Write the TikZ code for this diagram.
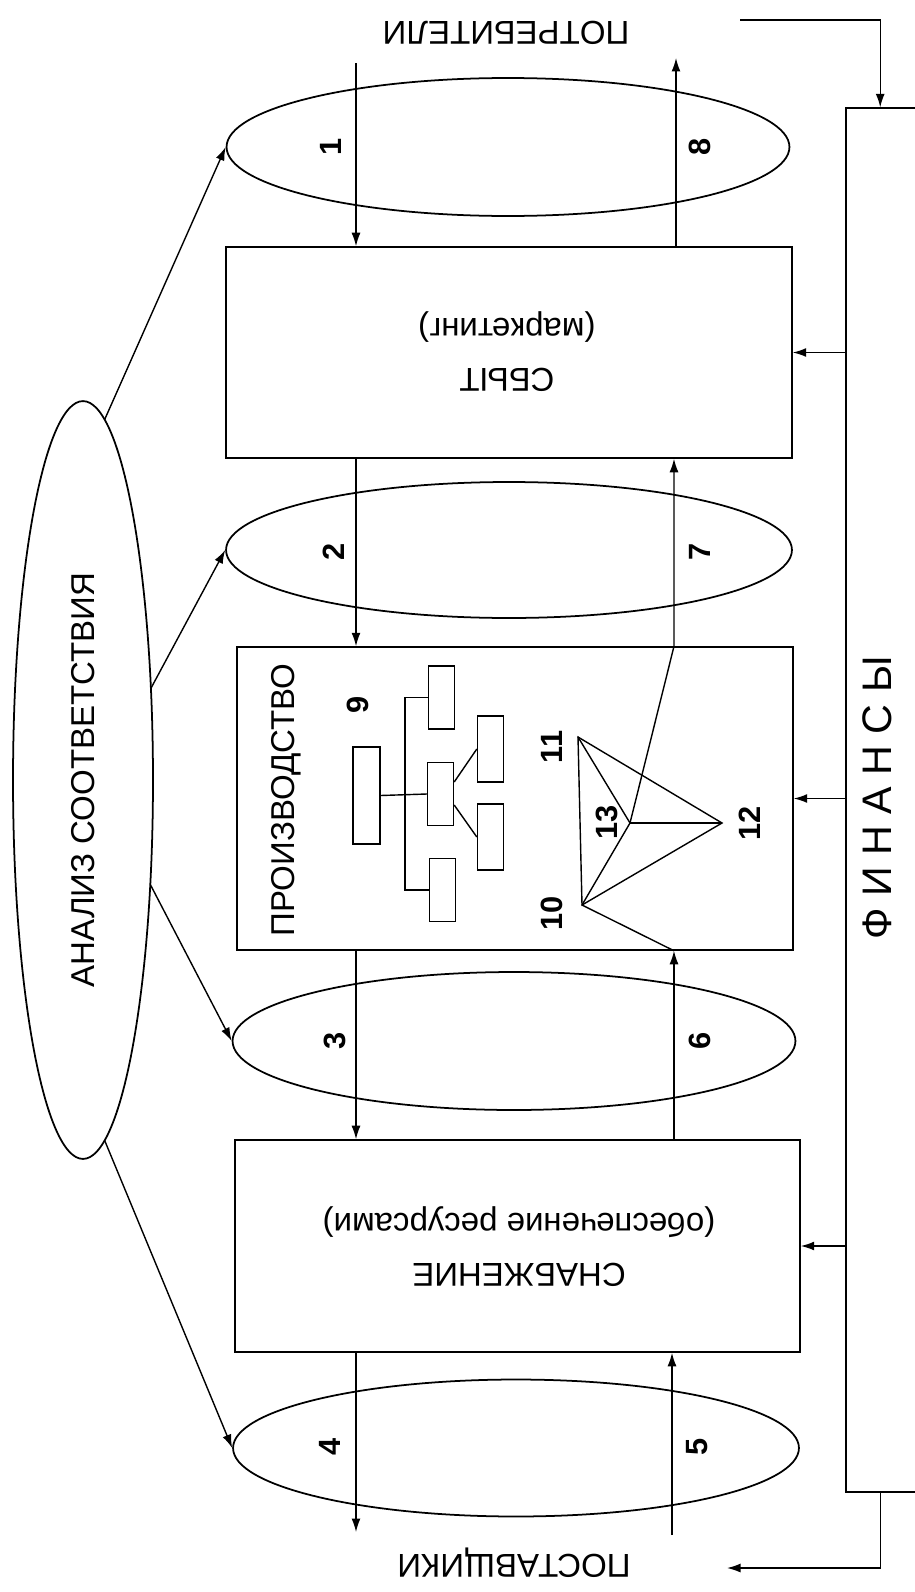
\documentclass[tikz,border=0pt]{standalone}
\usepackage{fontspec}
\setmainfont{Liberation Sans}
\usepackage{tikz}
\usetikzlibrary{arrows.meta, shapes.geometric, calc, positioning}

\begin{document}
\begin{tikzpicture}[x=0.02cm, y=-0.02cm,
        flow/.style={-{Latex[length=0.27cm,width=0.18cm]}, line width=0.8pt},
        block/.style={draw, line width=0.9pt, inner sep=0pt},
        oval/.style={draw, ellipse, line width=1pt, inner sep=0pt, minimum width=11.26cm, minimum height=2.76cm},
        leaf/.style={draw, line width=0.8pt, inner sep=0pt, minimum width=0.52cm, minimum height=1.26cm},
        lbl/.style={font=\fontsize{18.8}{28.5}\selectfont},
        num/.style={rotate=90, font=\fontsize{17.5}{20}\selectfont\bfseries}]

        \useasboundingbox (0,0) rectangle (915,1592);

        % Vẽ các khối chính
        \node[block, minimum width=11.32cm, minimum height=4.22cm] (sbyt) at (509,352.5) {};
        \node[block, minimum width=11.12cm, minimum height=6.06cm] (proizv) at (515,798.5) {};
        \node[block, minimum width=11.3cm, minimum height=4.24cm] (snab) at (517.5,1246) {};
        \node[block, minimum width=1.8cm, minimum height=27.68cm] (fin) at (891,800) {};

        % Chữ trong các khối
        \node[lbl, rotate=180, align=center] (sbyttext) at (507,352) {СБЫТ\\(маркетинг)};
        \node[lbl, rotate=180, align=center] (snabtext) at (519,1247) {СНАБЖЕНИЕ\\(обеспечение ресурсами)};
        \node[lbl, rotate=90] (proizvtext) at (286,800) {ПРОИЗВОДСТВО};
        \node[rotate=90, font=\fontsize{23.5}{28}\selectfont] (fintext) at (877,798) {Ф И Н А Н С Ы};
        \node[lbl, rotate=180] (potr) at (506,33) {ПОТРЕБИТЕЛИ};
        \node[lbl, rotate=180] (post) at (514,1563) {ПОСТАВЩИКИ};

        % Vẽ các hình elip
        \node[oval] (e1) at (508,147) {};
        \node[oval, minimum width=11.32cm, minimum height=2.72cm] (e2) at (509,550) {};
        \node[oval] (e3) at (514,1041) {};
        \node[oval, minimum width=11.32cm, minimum height=2.74cm] (e4) at (516,1448) {};
        \node[oval, lbl, rotate=90, minimum width=15.16cm, minimum height=2.8cm] (ana) at (83,780) {АНАЛИЗ СООТВЕТСТВИЯ};

        % Các cột mũi tên và đầu tự do
        \coordinate (dn) at (356,0);
        \coordinate (up) at (674,0);
        \coordinate (in1) at (356,63);
        \coordinate (out8) at (676,58);
        \coordinate (out4) at (356,1532);
        \coordinate (in5) at (672,1535);
        \coordinate (pay) at (740,20);
        \coordinate (payout) at (727,1568);

        % Sơ đồ 9 (cây)
        \node[leaf, minimum width=0.54cm, minimum height=1.94cm] (t0) at (366.5,795.5) {};
        \node[leaf] (ta) at (441.5,697.5) {};
        \node[leaf] (tb) at (440.5,794) {};
        \node[leaf] (tc) at (442.5,890) {};
        \node[leaf, minimum height=1.32cm] (td) at (490.5,749) {};
        \node[leaf, minimum height=1.32cm] (te) at (490.5,837) {};
        \coordinate (bus) at (405,0);
        \draw[line width=0.8pt] (t0.east) -- (tb.west);
        \draw[line width=0.8pt] (ta.west) -| (bus |- tc.west) -- (tc.west);
        \draw[line width=0.8pt] ([yshift=0.24cm]tb.east) -- (td.west);
        \draw[line width=0.8pt] ([yshift=-0.22cm]tb.east) -- (te.west);
        \node[num] (n9) at (358,705) {9};

        % Hình chóp 10-11-12-13
        \coordinate (v10) at (582,905);
        \coordinate (v11) at (578,737);
        \coordinate (v12) at (722,823);
        \coordinate (v13) at (630,823);
        \draw[line width=0.8pt] (v11) -- (v10) -- (v12) -- cycle;
        \draw[line width=0.8pt] (v11) -- (v13) -- (v10);
        \draw[line width=0.8pt] (v13) -- (v12);
        \node[num] (n10) at (552,913) {10};
        \node[num] (n11) at (552,747) {11};
        \node[num] (n12) at (750,823) {12};
        \node[num] (n13) at (607,822) {13};

        % Luồng giữa các khối
        \draw[flow] (in1) -- (in1 |- sbyt.north); % 1
        \draw[flow] (sbyt.north -| out8) -- (out8); % 8
        \draw[flow] (sbyt.south -| dn) -- (proizv.north -| dn); % 2
        \draw[flow] (v13) -- (proizv.north -| up) -- (sbyt.south -| up); % 7
        \draw[flow] (proizv.south -| dn) -- (snab.north -| dn); % 3
        \draw[flow] (snab.north -| up) -- (proizv.south -| up); % 6
        \draw[line width=0.8pt] (proizv.south -| up) -- (v10);
        \draw[flow] (snab.south -| dn) -- (out4); % 4
        \draw[flow] (in5) -- (in5 |- snab.south); % 5

        % Số trên các luồng
        \node[num] (n1) at (331,147) {1};
        \node[num] (n8) at (700,147) {8};
        \node[num] (n2) at (334,552) {2};
        \node[num] (n7) at (700,552) {7};
        \node[num] (n3) at (335,1041) {3};
        \node[num] (n6) at (700,1041) {6};
        \node[num] (n4) at (330,1447) {4};
        \node[num] (n5) at (697,1447) {5};

        % Tài chính
        \draw[flow] (fin.west |- sbyt.east) -- (sbyt.east);
        \draw[flow] (fin.west |- proizv.east) -- (proizv.east);
        \draw[flow] (fin.west |- snab.east) -- (snab.east);
        \draw[flow] (pay) -| ([xshift=0.7cm]fin.north west);
        \draw[flow] ([xshift=0.7cm]fin.south west) |- (payout);

        % Mũi tên từ phân tích
        \draw[flow] ($(ana.center)+(72:1.4cm and 7.58cm)$) -- (e1.west);
        \draw[flow] ($(ana.center)+(14:1.4cm and 7.58cm)$) -- (e2.west);
        \draw[flow] ($(ana.center)+(-16:1.4cm and 7.58cm)$) -- (e3.west);
        \draw[flow] ($(ana.center)+(-72:1.4cm and 7.58cm)$) -- (e4.west);

\end{tikzpicture}
\end{document}
